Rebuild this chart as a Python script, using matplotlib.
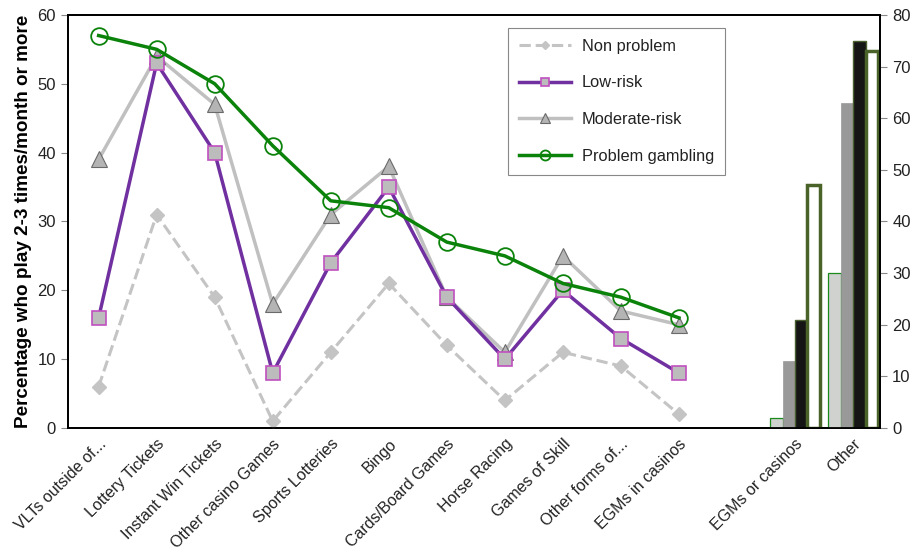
import matplotlib
matplotlib.use("Agg")
import matplotlib.pyplot as plt
import numpy as np

plt.rcParams["font.family"] = ["Liberation Sans", "DejaVu Sans"]
plt.rcParams["text.color"] = "#222222"
plt.rcParams["xtick.color"] = "#222222"
plt.rcParams["ytick.color"] = "#222222"

CATEGORIES = ["VLTs outside of...", "Lottery Tickets", "Instant Win Tickets",
	"Other casino Games", "Sports Lotteries", "Bingo", "Cards/Board Games",
	"Horse Racing", "Games of Skill", "Other forms of...", "EGMs in casinos"]
BAR_CATEGORIES = ["EGMs or casinos", "Other"]

NON_PROBLEM = [6, 31, 19, 1, 11, 21, 12, 4, 11, 9, 2]
LOW_RISK = [16, 53, 40, 8, 24, 35, 19, 10, 20, 13, 8]
MODERATE_RISK = [39, 54, 47, 18, 31, 38, 19, 11, 25, 17, 15]
PROBLEM = [57, 55, 50, 41, 33, 32, 27, 25, 21, 19, 16]

# right axis bars, one list per group
BAR_NON = [2, 30]
BAR_LOW = [13, 63]
BAR_MOD = [21, 75]
BAR_PROB = [47, 73]

fig = plt.figure(figsize = (9.17, 5.52), dpi = 100)
ax = fig.add_axes([0.074, 0.2246, 0.886, 0.7484])
ax2 = ax.twinx()

x = np.arange(len(CATEGORIES))
ax.plot(x, NON_PROBLEM, color = "#c4c4c4", ls = "--", lw = 2.2, marker = "D",
	ms = 7, mfc = "#c4c4c4", mec = "#c4c4c4", label = "Non problem", zorder = 3)
ax.plot(x, LOW_RISK, color = "#7030a0", lw = 2.5, marker = "s", ms = 10,
	mfc = "#bcbcbc", mec = "#c050c0", mew = 1.2, label = "Low-risk", zorder = 4)
ax.plot(x, MODERATE_RISK, color = "#c0c0c0", lw = 2.5, marker = "^", ms = 11,
	mfc = "#b4b4b4", mec = "#6a6a6a", mew = 0.8, label = "Moderate-risk",
	zorder = 3.5)
ax.plot(x, PROBLEM, color = "#0b830b", lw = 2.5, marker = "o", ms = 12,
	mfc = "none", mec = "#0b830b", mew = 1.3, label = "Problem gambling",
	zorder = 5)

bx = np.array([12, 13])
w = 0.215
ax2.bar(bx - 1.5 * w, BAR_NON, w, color = "#d0d2d0", edgecolor = "#1a8a1a",
	linewidth = 0.9)
ax2.bar(bx - 0.5 * w, BAR_LOW, w, color = "#999999", edgecolor = "#999999",
	linewidth = 0.5)
ax2.bar(bx + 0.5 * w, BAR_MOD, w, color = "#151515", edgecolor = "#4a6030",
	linewidth = 1.0)
ax2.bar(bx + 1.5 * w, BAR_PROB, w, color = "white", edgecolor = "#4a6328",
	linewidth = 2.5)

ax.set_xlim(-0.53, 13.47)
ax.set_ylim(0, 60)
ax2.set_ylim(0, 80)
ax.set_yticks(range(0, 61, 10))
ax2.set_yticks(range(0, 81, 10))
ax.set_xticks(list(x) + list(bx))
ax.set_xticklabels(CATEGORIES + BAR_CATEGORIES, rotation = 45, ha = "right",
	rotation_mode = "anchor", fontsize = 11.5)
ax.tick_params(axis = "x", length = 0, pad = 6)
ax.tick_params(axis = "y", labelsize = 12, direction = "out", length = 5,
	width = 0.8, color = "#888888")
ax2.tick_params(axis = "y", labelsize = 12, direction = "out", length = 5,
	width = 0.8, color = "#888888")
for a in (ax, ax2):
	for s in a.spines.values():
		s.set_linewidth(1.3)
		s.set_color("black")
ax.set_ylabel("Percentage who play 2-3 times/month or more", fontsize = 13.6,
	fontweight = "bold", labelpad = 4)

leg = ax.legend(loc = "upper left", bbox_to_anchor = (0.5419, 0.9685),
	borderaxespad = 0, fontsize = 11.8, labelspacing = 1.33, borderpad = 0.65,
	handlelength = 3.2, handletextpad = 0.65, fancybox = False,
	framealpha = 1)
leg.get_frame().set_edgecolor("#888888")
leg.get_frame().set_linewidth(0.8)
for h in leg.legend_handles:
	h.set_markersize(h.get_markersize() * 0.6)

fig.savefig("out.png", dpi = 100)
